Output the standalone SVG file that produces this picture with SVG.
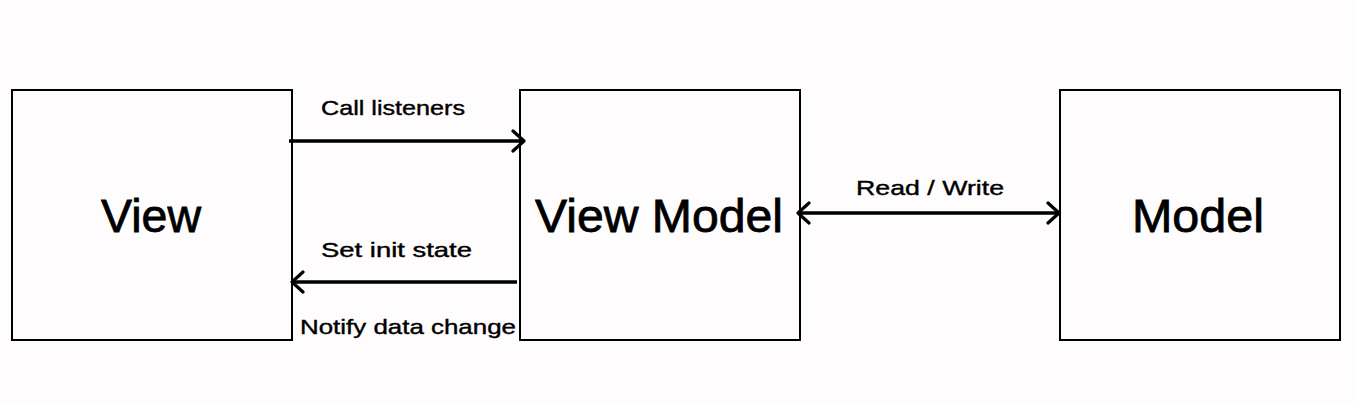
<svg xmlns="http://www.w3.org/2000/svg" width="1356" height="404" viewBox="0 0 1356 404">
<style>
.box{fill:#fffcfe;stroke:#000;stroke-width:2}
.big{font-family:"Comic Sans MS","Liberation Sans",sans-serif;font-size:46px;fill:#000;stroke:#000;stroke-width:0.8;text-anchor:middle}
.lbl{font-family:"Comic Sans MS","Liberation Sans",sans-serif;font-size:21px;fill:#000;stroke:#000;stroke-width:0.4}
.conn{stroke:#000;stroke-width:3.5;fill:none}
</style>
<defs>
<marker id="head" viewBox="-14 -12 16 24" refX="0" refY="0" markerWidth="16" markerHeight="24" markerUnits="userSpaceOnUse" orient="auto-start-reverse">
<path d="M-11,-10 L0,0 L-11,10" fill="none" stroke="#000" stroke-width="3.2" stroke-linecap="round" stroke-linejoin="round"/>
</marker>
</defs>
<rect width="1356" height="404" fill="#fffcfe"/>
<g id="view">
<rect class="box" x="12" y="90" width="280" height="250"/>
<text class="big" x="151" y="232" textLength="100" lengthAdjust="spacingAndGlyphs">View</text>
</g>
<g id="viewmodel">
<rect class="box" x="520" y="90" width="280" height="250"/>
<text class="big" x="659" y="232" textLength="248" lengthAdjust="spacingAndGlyphs">View Model</text>
</g>
<g id="model">
<rect class="box" x="1060" y="90" width="280" height="250"/>
<text class="big" x="1198" y="232" textLength="132" lengthAdjust="spacingAndGlyphs">Model</text>
</g>
<g id="connectors">
<line class="conn" x1="289" y1="141" x2="524" y2="141" marker-end="url(#head)"/>
<line class="conn" x1="517" y1="282" x2="292" y2="282" marker-end="url(#head)"/>
<line class="conn" x1="798" y1="213" x2="1059" y2="213" marker-start="url(#head)" marker-end="url(#head)"/>
<text class="lbl" x="321" y="115" textLength="144" lengthAdjust="spacingAndGlyphs">Call listeners</text>
<text class="lbl" x="321" y="257" textLength="151" lengthAdjust="spacingAndGlyphs">Set init state</text>
<text class="lbl" x="300" y="334" textLength="216" lengthAdjust="spacingAndGlyphs">Notify data change</text>
<text class="lbl" x="856" y="195" textLength="148" lengthAdjust="spacingAndGlyphs">Read / Write</text>
</g>
</svg>
